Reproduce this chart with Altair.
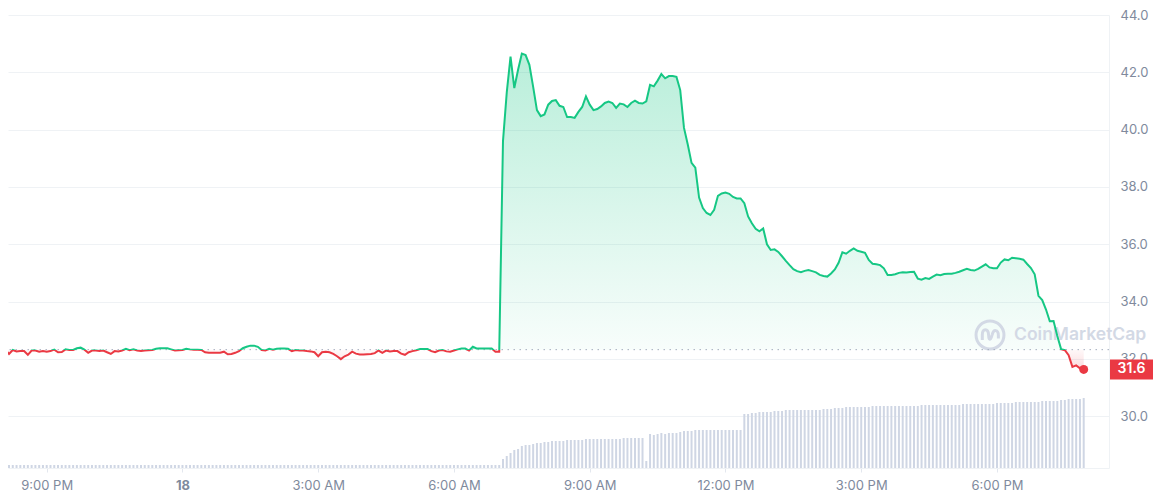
import altair as alt
import pandas as pd

# ---------------- data ----------------
START = "2024-05-17 20:05"      # first sample, 5-minute sampling
BASELINE = 32.32                # price at period open (dotted line)
GREEN = "#16c784"
RED = "#ea3943"

price = [
    32.32, 32.17, 32.31, 32.26, 32.27, 32.27, 32.14, 32.29, 32.29, 32.25,
    32.27, 32.25, 32.27, 32.32, 32.23, 32.24, 32.33, 32.31, 32.31, 32.37,
    32.39, 32.32, 32.21, 32.29, 32.29, 32.27, 32.29, 32.23, 32.17, 32.27,
    32.26, 32.29, 32.35, 32.30, 32.33, 32.29, 32.27, 32.29, 32.30, 32.31,
    32.35, 32.37, 32.37, 32.37, 32.33, 32.29,
    32.30, 32.31, 32.35, 32.33, 32.32, 32.32, 32.31, 32.23, 32.21, 32.21,
    32.21, 32.21, 32.25, 32.16, 32.17, 32.21, 32.27, 32.37, 32.42, 32.46,
    32.46, 32.42, 32.31, 32.29, 32.35, 32.32, 32.35, 32.36, 32.36, 32.35,
    32.27, 32.31, 32.29, 32.29, 32.27, 32.26, 32.23, 32.09, 32.23, 32.25,
    32.23, 32.17, 32.09, 31.99, 32.09,
    32.15, 32.25, 32.18, 32.15, 32.15, 32.16, 32.17, 32.20, 32.29, 32.21,
    32.29, 32.26, 32.27, 32.27, 32.18, 32.14, 32.23, 32.27, 32.30, 32.34,
    32.34, 32.34, 32.27, 32.23, 32.29, 32.31, 32.26, 32.25, 32.29, 32.33,
    32.36, 32.36, 32.29, 32.42, 32.36, 32.36, 32.36, 32.36, 32.36, 32.25,
    32.25,
    39.60, 41.30, 42.55, 41.45, 42.09, 42.65, 42.60, 42.26, 41.49, 40.68,
    40.47, 40.53, 40.87, 41.00, 41.03, 40.83, 40.79, 40.44, 40.44, 40.41,
    40.62, 40.79, 41.16, 40.87, 40.68, 40.72, 40.81, 40.93, 40.98, 40.93,
    40.76, 40.91, 40.88, 40.79, 40.93, 41.01, 40.93, 40.91, 40.99, 41.56,
    41.51, 41.71, 41.94, 41.79, 41.87, 41.87, 41.84, 41.38, 40.06, 39.48,
    38.84, 38.67, 37.63, 37.26, 37.09, 37.02, 37.20, 37.69, 37.77, 37.80,
    37.76, 37.65, 37.60, 37.60, 37.43, 36.97, 36.73, 36.54, 36.45, 36.55,
    36.00, 35.80, 35.82,
    35.73, 35.58, 35.42, 35.27, 35.13, 35.06, 35.02, 35.07, 35.10, 35.06,
    35.02, 34.93, 34.89, 34.87, 34.98, 35.12, 35.35, 35.72, 35.67, 35.77,
    35.85, 35.77, 35.74, 35.70, 35.45, 35.32, 35.30, 35.27, 35.16, 34.93,
    34.93, 34.95, 35.00, 35.02, 35.01, 35.03, 35.04, 34.80, 34.76, 34.82,
    34.79, 34.87, 34.94, 34.92, 34.96, 34.97, 34.97, 35.00, 35.04, 35.09,
    35.14, 35.10, 35.08, 35.14, 35.22, 35.30, 35.19, 35.16, 35.16, 35.36,
    35.47, 35.44, 35.53, 35.51, 35.49, 35.46, 35.31, 35.17, 34.95, 34.20,
    34.05, 33.72, 33.31, 33.32, 32.80, 32.34, 32.30, 32.13, 31.72, 31.77,
    31.67, 31.63,
]

# relative traded volume per 5-minute bar (arbitrary units)
volume = [
    3, 3, 3, 3, 3, 3, 3, 3, 3, 3, 3, 3, 3, 3, 3, 3, 3, 3, 3, 3, 3, 3,
    3, 3, 3, 3, 3, 3, 3, 3, 3, 3, 3, 3, 3, 3, 3, 3, 3, 3, 3, 3, 3, 3,
    3, 3, 3, 3, 3, 3, 3, 3, 3, 3, 3, 3, 3, 3, 3, 3, 3, 3, 3, 3, 3, 3,
    3, 3, 3, 3, 3, 3, 3, 3, 3, 3, 3, 3, 3, 3, 3, 3, 3, 3, 3, 3, 3, 3,
    3, 3, 3, 3, 3, 3, 3, 3, 3, 3, 3, 3, 3, 3, 3, 3, 3, 3, 3, 3, 3, 3,
    3, 3, 3, 3, 3, 3, 3, 3, 3, 3, 3, 3, 3, 3, 3, 3, 3, 3, 3, 3, 3, 3,
    9, 12, 15, 18, 19, 22, 23, 23, 24, 25, 25, 26, 26,
    27, 27, 27, 27, 28, 28, 28, 28, 28,
    29, 29, 29, 29, 29, 29, 29, 29, 29, 29, 30, 30, 30, 30, 30, 30,
    7, 34, 33, 34, 35, 34, 35, 35, 35, 36, 37, 37, 37,
    38, 38, 38, 38, 38, 38, 38, 38, 38, 38, 38, 38, 38,
    54, 54, 55, 55, 56, 56, 56, 56, 57, 57, 57,
    58, 58, 58, 58, 58, 58, 58, 58, 58, 58, 59, 59, 59, 60, 60, 60,
    61, 61, 61, 61, 61, 61, 61,
    62, 62, 62, 62, 62, 62, 62, 62, 62, 62, 62, 62, 62,
    63, 63, 63, 63, 63, 63, 63, 63, 63, 63, 63,
    64, 64, 64, 64, 64, 64, 64, 64, 64, 65, 65, 65, 65, 65,
    66, 66, 66, 66, 66, 66, 66, 67, 67, 67, 67, 67,
    68, 68, 69, 69, 69, 69, 70,
]

y_ticks = [30, 32, 34, 36, 38, 40, 42, 44]
x_ticks = [(17, 21), (18, 0), (18, 3), (18, 6), (18, 9), (18, 12), (18, 15), (18, 18)]

# ---------------- table ----------------
times = pd.date_range(START, periods=len(price), freq="5min")
df = pd.DataFrame({
    "t": times.strftime("%Y-%m-%dT%H:%M:%S"),
    "price": price,
    "vol": volume,
})
df["base"] = BASELINE
df["up"] = df["price"].clip(lower=BASELINE)
df["down"] = df["price"].clip(upper=BASELINE)
last = df.tail(1)

W, H = 1101, 453
PAD_R = 44
LABEL = "#808a9d"
GRID = "#eff2f5"

x_domain = [alt.DateTime(year=2024, month=5, date=17, hours=20, minutes=15, seconds=18),
            alt.DateTime(year=2024, month=5, date=18, hours=20, minutes=21, seconds=54)]
x_axis = alt.Axis(
    values=[alt.DateTime(year=2024, month=5, date=d, hours=h) for d, h in x_ticks],
    labelExpr="hours(datum.value)==0 ? timeFormat(datum.value,'%-d') : timeFormat(datum.value,'%-I:%M %p')",
    title=None, grid=False, domain=True, domainColor=GRID, ticks=True, tickColor="#e3e7ee",
    tickSize=4, labelPadding=7, labelColor=LABEL, labelFont="Inter", labelFontSize=13,
    labelFlush=False, labelOverlap=False,
    labelFontWeight={"condition": {"test": "hours(datum.value)==0", "value": "bold"}, "value": "normal"},
)
X = alt.X("t:T", scale=alt.Scale(domain=x_domain), axis=x_axis)

y_scale = alt.Scale(domain=[28.19, 44.0], nice=False, zero=False)
y_axis = alt.Axis(orient="right", values=y_ticks, format=".1f", title=None, grid=True,
                  gridColor=GRID, domain=True, domainColor=GRID, ticks=False,
                  labelPadding=11, labelColor=LABEL, labelFont="Inter", labelFontSize=13,
                  labelFlush=False)

up_frac = (max(price) - BASELINE) / (max(price) - min(price))
line_grad = alt.Gradient(gradient="linear", x1=0, x2=0, y1=0, y2=1, stops=[
    alt.GradientStop(color=GREEN, offset=0),
    alt.GradientStop(color=GREEN, offset=up_frac),
    alt.GradientStop(color=RED, offset=up_frac),
    alt.GradientStop(color=RED, offset=1),
])
green_fill = alt.Gradient(gradient="linear", x1=0, x2=0, y1=0, y2=1, stops=[
    alt.GradientStop(color="rgba(22,199,132,0.30)", offset=0),
    alt.GradientStop(color="rgba(22,199,132,0.03)", offset=1),
])
red_fill = alt.Gradient(gradient="linear", x1=0, x2=0, y1=0, y2=1, stops=[
    alt.GradientStop(color="rgba(234,57,67,0.03)", offset=0),
    alt.GradientStop(color="rgba(234,57,67,0.18)", offset=1),
])

base = alt.Chart(df)

vol = base.mark_bar(width=2, color="#cfd6e4", clip=True).encode(
    x=X, y=alt.Y("vol:Q", scale=alt.Scale(domain=[0, H]), axis=None))

area_up = base.mark_area(fill=green_fill, clip=True).encode(
    x=X, y=alt.Y("up:Q", scale=y_scale, axis=y_axis), y2="base:Q")
area_dn = base.mark_area(fill=red_fill, clip=True).encode(
    x=X, y=alt.Y("down:Q", scale=y_scale, axis=y_axis), y2="base:Q")

wm = pd.DataFrame({"label": ["CoinMarketCap"]})
wm_text = alt.Chart(wm).mark_text(align="left", baseline="middle", font="Inter", fontSize=17.5,
                                   fontWeight=600, color="#d3d9e5").encode(
    x=alt.value(1006), y=alt.value(320), text="label:N")
wm_ring = alt.Chart(wm).mark_point(shape="circle", filled=False, size=780, strokeWidth=3,
                                   color="#d3d9e5", opacity=1).encode(
    x=alt.value(982), y=alt.value(320))
wm_wave = alt.Chart(wm).mark_point(
    shape="M-0.55,0.35 L-0.55,0 C-0.55,-0.5 -0.12,-0.5 -0.1,0 L-0.08,0.2 C-0.02,0.45 0.1,0.2 0.15,0 C0.25,-0.45 0.6,-0.4 0.6,0.05 L0.6,0.25",
    filled=False, size=780, strokeWidth=3, color="#d3d9e5", opacity=1).encode(
    x=alt.value(982), y=alt.value(320))

rule = alt.Chart(pd.DataFrame({"base": [BASELINE]})).mark_rule(
    strokeDash=[1.5, 4.5], color="#a3acbd", strokeWidth=1).encode(
    y=alt.Y("base:Q", scale=y_scale, axis=y_axis))

line = base.mark_line(stroke=line_grad, strokeWidth=2, clip=True).encode(
    x=X, y=alt.Y("price:Q", scale=y_scale, axis=y_axis))

dot = alt.Chart(last).mark_circle(size=80, color=RED, opacity=1).encode(
    x=X, y=alt.Y("price:Q", scale=y_scale, axis=y_axis))

box = alt.Chart(last).mark_rect(height=20, color=RED).encode(
    x=alt.value(W + 1), x2=alt.value(W + PAD_R), y=alt.Y("price:Q", scale=y_scale, axis=y_axis))
box_text = alt.Chart(last).mark_text(color="white", font="Inter", fontSize=14, fontWeight=600,
                                     align="center", baseline="middle").encode(
    x=alt.value(W + 1 + (PAD_R - 1) / 2), y=alt.Y("price:Q", scale=y_scale, axis=y_axis),
    text=alt.Text("price:Q", format=".1f"))

price_layer = alt.layer(area_up, area_dn, wm_text, wm_ring, wm_wave, rule, line, dot, box, box_text)

chart = alt.layer(vol, price_layer).resolve_scale(y="independent").properties(
    width=W, height=H,
    autosize=alt.AutoSizeParams(type="none"),
    padding={"left": 0, "top": 7, "right": PAD_R, "bottom": 24},
    background="white",
).configure_view(stroke=None)

chart.save("out.html", embed_options={"renderer": "svg", "actions": False})
